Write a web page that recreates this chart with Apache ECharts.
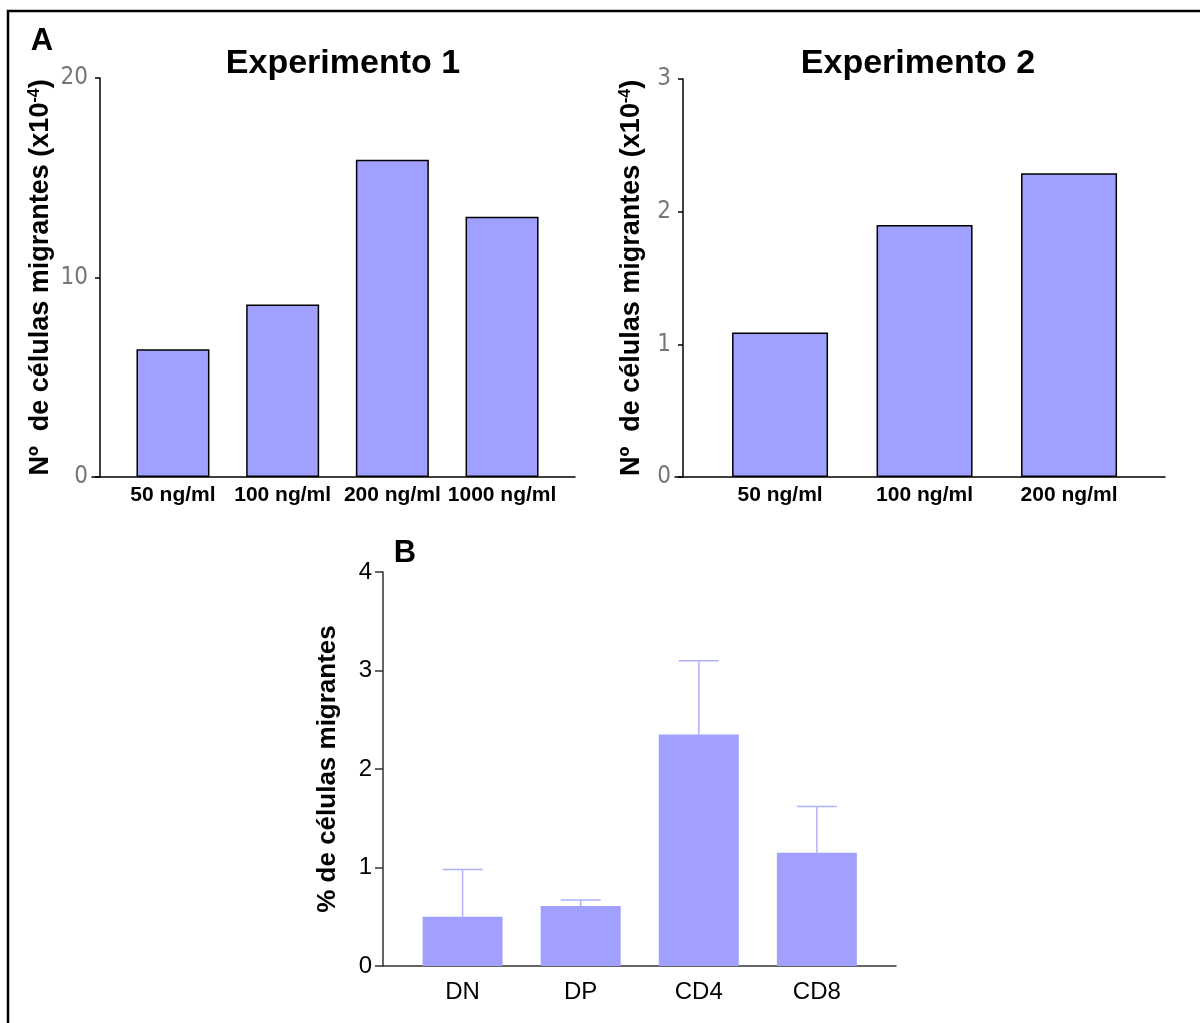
<!DOCTYPE html>
<html>
<head>
<meta charset="utf-8">
<script src="https://cdn.jsdelivr.net/npm/echarts@6/dist/echarts.min.js"></script>
<style>
  html, body { margin: 0; padding: 0; background: #fff; }
  #chart { width: 1200px; height: 1023px; }
</style>
</head>
<body>
<div id="chart"></div>
<script>
// Experimento 1
const exp1Cats = ['50 ng/ml', '100 ng/ml', '200 ng/ml', '1000 ng/ml'];
const exp1Vals = [6.4, 8.65, 15.9, 13.05];
// Experimento 2
const exp2Cats = ['50 ng/ml', '100 ng/ml', '200 ng/ml'];
const exp2Vals = [1.09, 1.9, 2.29];
// B: % de células migrantes (media y limite superior de la barra de error)
const popCats = ['DN', 'DP', 'CD4', 'CD8'];
const popVals = [0.5, 0.61, 2.35, 1.15];
const popErrTop = [0.98, 0.67, 3.1, 1.62];

const barFill = '#a0a0ff';
const font = 'Liberation Sans, Arial, sans-serif';

const yNameA = {
  fontFamily: font,
  rich: {
    b: { fontSize: 27, fontWeight: 'bold', color: '#000', fontFamily: font },
    sup: { fontSize: 16, fontWeight: 'bold', color: '#000', fontFamily: font, verticalAlign: 'top' }
  }
};
const yNameText = '{b|Nº  de células migrantes (x10}{sup|-4}{b|)}';

const pos = (cats) => cats.map((c, i) => i);

const catXAxis = (idx, cats, min, max, opts) => Object.assign({
  type: 'value',
  gridIndex: idx,
  min: min,
  max: max,
  splitLine: { show: false },
  axisTick: { show: false },
  axisLine: { show: true, onZero: false, lineStyle: { color: '#000', width: 1.5 } },
  axisLabel: {
    customValues: pos(cats),
    formatter: v => cats[Math.round(v)],
    fontFamily: font,
    fontWeight: 'bold',
    fontSize: 21,
    color: '#000',
    margin: 8
  }
}, opts || {});

const narrowY = (idx, max, interval, gap) => ({
  type: 'value',
  gridIndex: idx,
  min: 0,
  max: max,
  interval: interval,
  offset: -8,
  splitLine: { show: false },
  axisLine: { show: true, onZero: false, lineStyle: { color: '#000', width: 1.5 } },
  axisTick: { show: true, length: 5, lineStyle: { color: '#000', width: 1.5 } },
  axisLabel: {
    fontFamily: 'DejaVu Sans Condensed, Liberation Sans Narrow, Liberation Sans, sans-serif',
    fontSize: 24,
    color: '#777',
    margin: 12
  },
  name: yNameText,
  nameLocation: 'middle',
  nameGap: gap,
  nameTextStyle: yNameA
});

const option = {
  animation: false,
  backgroundColor: '#fff',
  graphic: [
    { type: 'rect', shape: { x: 8, y: 11, width: 1200, height: 1030 },
      style: { fill: 'none', stroke: '#000', lineWidth: 2.5 } },
    { type: 'text', x: 42, y: 41,
      style: { text: 'A', font: 'bold 31px ' + font, fill: '#000', align: 'center', verticalAlign: 'middle' } },
    { type: 'text', x: 405, y: 553,
      style: { text: 'B', font: 'bold 31px ' + font, fill: '#000', align: 'center', verticalAlign: 'middle' } },
    { type: 'text', x: 343, y: 64,
      style: { text: 'Experimento 1', font: 'bold 34px ' + font, fill: '#000', align: 'center', verticalAlign: 'middle' } },
    { type: 'text', x: 918, y: 64,
      style: { text: 'Experimento 2', font: 'bold 34px ' + font, fill: '#000', align: 'center', verticalAlign: 'middle' } }
  ],
  grid: [
    { left: 92, top: 78, width: 483, height: 399 },
    { left: 675, top: 79, width: 490, height: 398 },
    { left: 383, top: 572, width: 513, height: 394 }
  ],
  xAxis: [
    catXAxis(0, exp1Cats, -0.738, 3.665),
    catXAxis(1, exp2Cats, -0.727, 2.664),
    catXAxis(2, popCats, -0.674, 3.67, {
      axisLine: { show: true, onZero: false, lineStyle: { color: '#333', width: 1.5 } },
      axisLabel: {
        customValues: pos(popCats),
        formatter: v => popCats[Math.round(v)],
        fontFamily: font,
        fontSize: 24,
        color: '#000',
        margin: 14
      }
    })
  ],
  yAxis: [
    narrowY(0, 20, 10, 46),
    narrowY(1, 3, 1, 38),
    {
      type: 'value',
      gridIndex: 2,
      min: 0,
      max: 4,
      interval: 1,
      splitLine: { show: false },
      axisLine: { show: true, onZero: false, lineStyle: { color: '#333', width: 1.5 } },
      axisTick: { show: true, length: 8, lineStyle: { color: '#333', width: 1.5 } },
      axisLabel: { fontFamily: font, fontSize: 24, color: '#000', margin: 11 },
      name: '% de células migrantes',
      nameLocation: 'middle',
      nameGap: 42,
      nameTextStyle: { fontFamily: font, fontSize: 26, fontWeight: 'bold', color: '#000' }
    }
  ],
  series: [
    {
      type: 'bar', xAxisIndex: 0, yAxisIndex: 0, barWidth: 73,
      itemStyle: { color: barFill, borderColor: '#000', borderWidth: 1.5 },
      data: exp1Vals.map((v, i) => [i, v])
    },
    {
      type: 'bar', xAxisIndex: 1, yAxisIndex: 1, barWidth: 96,
      itemStyle: { color: barFill, borderColor: '#000', borderWidth: 1.5 },
      data: exp2Vals.map((v, i) => [i, v])
    },
    {
      type: 'bar', xAxisIndex: 2, yAxisIndex: 2, barWidth: 80,
      itemStyle: { color: '#a1a1fd' },
      data: popVals.map((v, i) => [i, v])
    },
    {
      type: 'custom', xAxisIndex: 2, yAxisIndex: 2, z: 3,
      data: popVals.map((v, i) => [i, v, popErrTop[i]]),
      renderItem: function (params, api) {
        const base = api.coord([api.value(0), api.value(1)]);
        const top = api.coord([api.value(0), api.value(2)]);
        const half = 20;
        const st = { stroke: '#b0b0fc', lineWidth: 1.5 };
        return {
          type: 'group',
          children: [
            { type: 'line', shape: { x1: base[0], y1: base[1], x2: top[0], y2: top[1] }, style: st },
            { type: 'line', shape: { x1: top[0] - half, y1: top[1], x2: top[0] + half, y2: top[1] }, style: st }
          ]
        };
      }
    }
  ]
};

const myChart = echarts.init(document.getElementById('chart'));
myChart.setOption(option);
</script>
</body>
</html>
